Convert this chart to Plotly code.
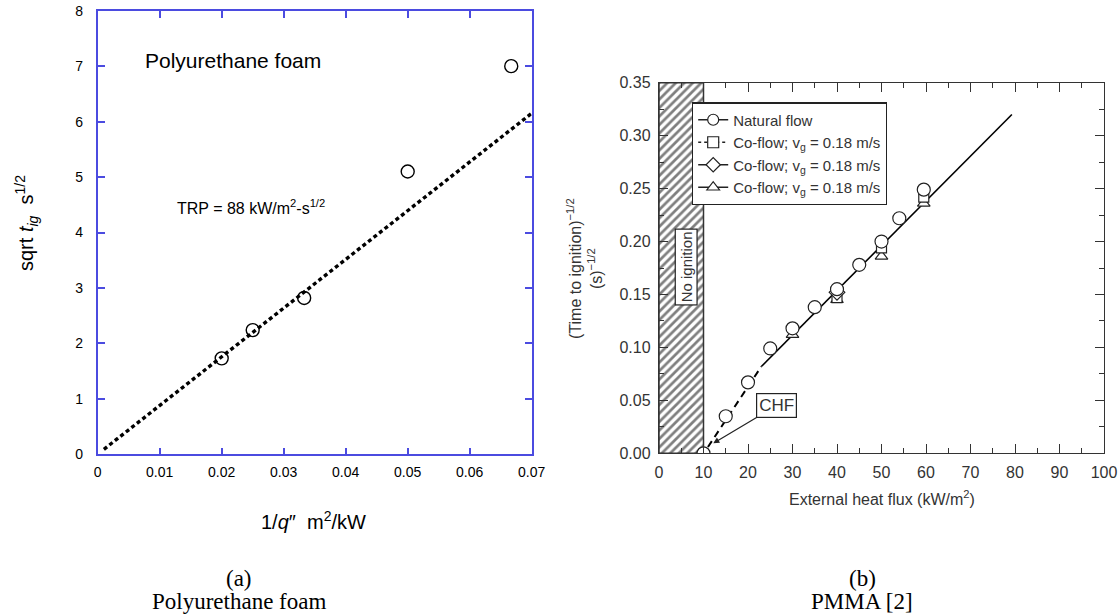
import plotly.graph_objects as go

W, H = 1120, 615

# ---------------- Panel (a): Polyurethane foam ----------------
pu_x = [0.02, 0.025, 0.0333, 0.05, 0.0667]
pu_y = [1.73, 2.24, 2.82, 5.10, 7.00]
pu_fit_x = [0.001, 0.07]
pu_fit_y = [0.09, 6.15]
a_xticks = [0, 0.01, 0.02, 0.03, 0.04, 0.05, 0.06, 0.07]
a_yticks = [0, 1, 2, 3, 4, 5, 6, 7, 8]

# ---------------- Panel (b): PMMA ----------------
nat_x = [10, 15, 20, 25, 30, 35, 40, 45, 50, 54, 59.5]
nat_y = [0.000, 0.035, 0.067, 0.099, 0.118, 0.138, 0.155, 0.178, 0.200, 0.222, 0.249]
sq_x = [40, 50, 59.5]
sq_y = [0.147, 0.194, 0.242]
dia_x = [40]
dia_y = [0.152]
tri_x = [30, 40, 50, 59.5]
tri_y = [0.112, 0.145, 0.186, 0.236]
fit_solid_x = [23, 79.3]
fit_solid_y = [0.082, 0.320]
fit_dash_x = [11, 23]
fit_dash_y = [0.006, 0.082]
noign_x = [0, 10]
b_ymax = 0.35
legend_labels = ["Natural flow",
                 "Co-flow; v<sub>g</sub> = 0.18 m/s",
                 "Co-flow; v<sub>g</sub> = 0.18 m/s",
                 "Co-flow; v<sub>g</sub> = 0.18 m/s"]


def px(x):
    return x / W


def py(y):
    return 1 - y / H


BLUE = "#4b4be0"
DARK = "#333333"
SANS = "Liberation Sans, Arial, sans-serif"
SERIF = "Liberation Serif, Times New Roman, serif"

fig = go.Figure()

# panel (a) traces
fig.add_trace(go.Scatter(x=pu_fit_x, y=pu_fit_y, mode="lines",
                         line=dict(color="black", width=3.4, dash="4px,3px"),
                         showlegend=False, xaxis="x", yaxis="y"))
fig.add_trace(go.Scatter(x=pu_x, y=pu_y, mode="markers",
                         marker=dict(symbol="circle-open", size=13, color="black",
                                     line=dict(width=1.4, color="black")),
                         showlegend=False, xaxis="x", yaxis="y"))

# panel (b) hatched no-ignition region
fig.add_trace(go.Scatter(x=[noign_x[0], noign_x[1], noign_x[1], noign_x[0], noign_x[0]],
                         y=[0, 0, b_ymax, b_ymax, 0], mode="lines", fill="toself",
                         fillcolor="white",
                         fillpattern=dict(shape="/", fgcolor="#000000", bgcolor="white",
                                          size=6, solidity=0.45),
                         line=dict(color="#333333", width=1.5),
                         showlegend=False, hoverinfo="skip", xaxis="x2", yaxis="y2"))

# fit lines
fig.add_trace(go.Scatter(x=fit_dash_x, y=fit_dash_y, mode="lines",
                         line=dict(color="black", width=2, dash="7px,5px"),
                         showlegend=False, xaxis="x2", yaxis="y2"))
fig.add_trace(go.Scatter(x=fit_solid_x, y=fit_solid_y, mode="lines",
                         line=dict(color="black", width=1.6),
                         showlegend=False, xaxis="x2", yaxis="y2"))

mk_line = dict(width=1.2, color="#222222")
fig.add_trace(go.Scatter(x=tri_x, y=tri_y, mode="markers",
                         marker=dict(symbol="triangle-up", size=11, color="white", line=mk_line),
                         showlegend=False, xaxis="x2", yaxis="y2"))
fig.add_trace(go.Scatter(x=sq_x, y=sq_y, mode="markers",
                         marker=dict(symbol="square", size=10, color="white", line=mk_line),
                         showlegend=False, xaxis="x2", yaxis="y2"))
fig.add_trace(go.Scatter(x=dia_x, y=dia_y, mode="markers",
                         marker=dict(symbol="diamond", size=12, color="white", line=mk_line),
                         showlegend=False, xaxis="x2", yaxis="y2"))
fig.add_trace(go.Scatter(x=nat_x, y=nat_y, mode="markers",
                         marker=dict(symbol="circle", size=13, color="white", line=mk_line),
                         showlegend=False, xaxis="x2", yaxis="y2"))

# legend-only entries
leg_styles = [("circle", "solid"), ("square", "dot"), ("diamond", "solid"), ("triangle-up", "solid")]
for lab, (sym, dsh) in zip(legend_labels, leg_styles):
    fig.add_trace(go.Scatter(x=[None], y=[None], mode="lines+markers", name=lab,
                             line=dict(color="#222222", width=1.5, dash=dsh),
                             marker=dict(symbol=sym, size=11, color="white", line=mk_line),
                             xaxis="x2", yaxis="y2"))

a_axis_common = dict(showline=True, linecolor=BLUE, linewidth=1.6, mirror="ticks",
                     ticks="inside", tickcolor=BLUE, ticklen=7, tickwidth=1.6,
                     showgrid=False, zeroline=False,
                     tickfont=dict(family=SANS, size=14, color="black"))

fig.update_layout(
    width=W, height=H, margin=dict(l=0, r=0, t=0, b=0, autoexpand=False),
    paper_bgcolor="white", plot_bgcolor="white",
    xaxis=dict(domain=[px(97.7), px(531.7)], range=[0, 0.07], anchor="y",
               tickvals=a_xticks, ticktext=[("0" if v == 0 else f"{v:g}") for v in a_xticks],
               ticklabelstandoff=4, **a_axis_common),
    yaxis=dict(domain=[py(454.3), py(10.7)], range=[0, 8], anchor="x",
               tickvals=a_yticks, ticklabelstandoff=10, **a_axis_common),
    xaxis2=dict(domain=[px(659), px(1104)], range=[0, 100], anchor="y2",
                dtick=10, tick0=0, showline=True, linecolor=DARK, linewidth=1.4,
                mirror="ticks", ticks="inside", ticklen=9, tickwidth=1.4, tickcolor=DARK,
                minor=dict(dtick=5, ticklen=5, tickwidth=1.2, tickcolor=DARK, ticks="inside"),
                showgrid=False, zeroline=False, ticklabelstandoff=4,
                tickfont=dict(family=SANS, size=16, color=DARK)),
    yaxis2=dict(domain=[py(453.3), py(82.7)], range=[0, 0.35], anchor="x2",
                dtick=0.05, tick0=0, tickformat=".2f", showline=True, linecolor=DARK,
                linewidth=1.4, mirror="ticks", ticks="inside", ticklen=9, tickwidth=1.4,
                tickcolor=DARK,
                minor=dict(dtick=0.025, ticklen=5, tickwidth=1.2, tickcolor=DARK, ticks="inside"),
                showgrid=False, zeroline=False, ticklabelstandoff=4,
                tickfont=dict(family=SANS, size=16, color=DARK)),
    legend=dict(x=px(692), y=py(102.3), xanchor="left", yanchor="top",
                bgcolor="white", bordercolor="#222222", borderwidth=1.2,
                font=dict(family=SANS, size=15, color=DARK),
                itemwidth=30, tracegroupgap=0),
)

ann = []
C = dict(xanchor="center", yanchor="middle")
# panel (a) texts
ann.append(dict(x=0.0073, y=7.11, xref="x", yref="y", xanchor="left", yanchor="middle",
                text="Polyurethane foam", showarrow=False,
                font=dict(family=SANS, size=21, color="black")))
ann.append(dict(x=0.0124, y=4.46, xref="x", yref="y", xanchor="left", yanchor="middle",
                text="TRP = 88 kW/m<sup>2</sup>-s<sup>1/2</sup>", showarrow=False,
                font=dict(family=SANS, size=16, color="black")))
ann.append(dict(x=px(313), y=py(520), xref="paper", yref="paper",
                text="1/<i>q</i>″  m<sup>2</sup>/kW", showarrow=False,
                font=dict(family=SANS, size=20, color="black"), **C))
ann.append(dict(x=px(27), y=py(223), xref="paper", yref="paper", textangle=-90,
                text="sqrt <i>t</i><sub><i>ig</i></sub>  s<sup>1/2</sup>", showarrow=False,
                font=dict(family=SANS, size=20, color="black"), **C))
# panel (b) texts
ann.append(dict(x=px(881.5), y=py(498), xref="paper", yref="paper",
                text="External heat flux (kW/m<sup>2</sup>)", showarrow=False,
                font=dict(family=SANS, size=16, color=DARK), **C))
ann.append(dict(x=px(584), y=py(269), xref="paper", yref="paper", textangle=-90,
                text="(Time to ignition)<sup>−1/2</sup><br>(s)<sup>−1/2</sup>", showarrow=False,
                font=dict(family=SANS, size=16, color=DARK), **C))
ann.append(dict(x=6.2, y=0.176, xref="x2", yref="y2", textangle=-90,
                text="No ignition", showarrow=False, bgcolor="white",
                bordercolor="#222222", borderwidth=1.2, borderpad=2,
                font=dict(family=SANS, size=15, color=DARK), **C))
ann.append(dict(x=12.2, y=0.0095, xref="x2", yref="y2", ax=26.4, ay=0.045,
                axref="x2", ayref="y2", text="CHF", showarrow=True,
                arrowhead=2, arrowsize=1, arrowwidth=1.2, arrowcolor="#222222",
                bgcolor="white", bordercolor="#222222", borderwidth=1.2, borderpad=2,
                font=dict(family=SANS, size=17, color=DARK)))
# captions
for cx, t1, t2 in [(239, "(a)", "Polyurethane foam"), (862, "(b)", "PMMA [2]")]:
    ann.append(dict(x=px(cx), y=py(578), xref="paper", yref="paper", text=t1,
                    showarrow=False, font=dict(family=SERIF, size=23, color="black"), **C))
    ann.append(dict(x=px(cx), y=py(601), xref="paper", yref="paper", text=t2,
                    showarrow=False, font=dict(family=SERIF, size=23, color="black"), **C))

fig.update_layout(annotations=ann)

fig.write_html("out.html")
